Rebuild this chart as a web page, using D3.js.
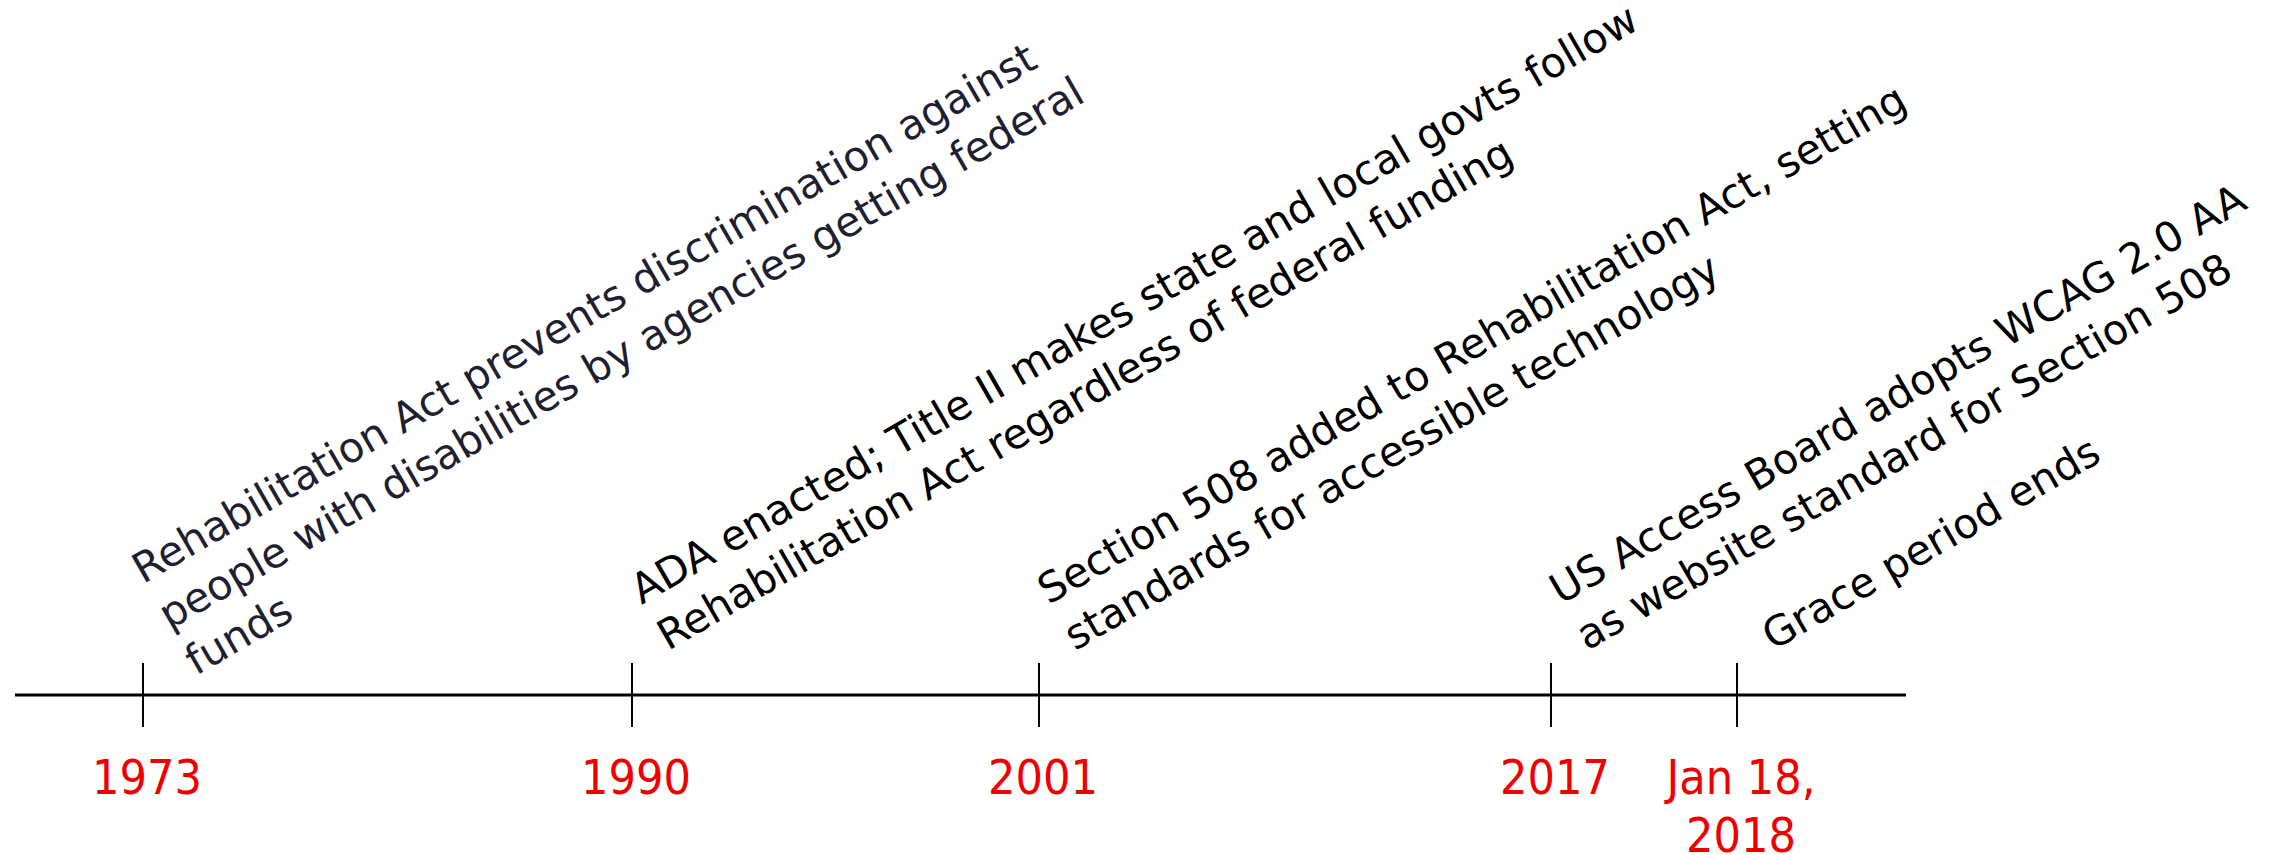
<!DOCTYPE html>
<html>
<head>
<meta charset="utf-8">
<script src="https://cdn.jsdelivr.net/npm/d3@7"></script>
<style>
  body { margin: 0; background: #fff; }
  .note { font-family: "DejaVu Sans", sans-serif; font-size: 41.5px; }
  .when { font-family: "DejaVu Sans Condensed", "Liberation Sans Narrow", "DejaVu Sans", sans-serif;
          font-stretch: condensed; font-size: 48px; fill: #ee0000; }
</style>
</head>
<body>
<svg class="chart"></svg>
<script>
// events along the timeline
var dates = [
  new Date(1973, 0, 1),
  new Date(1990, 0, 1),
  new Date(2001, 0, 1),
  new Date(2017, 0, 1),
  new Date(2018, 0, 18)
];

var whenLabels = [
  ["1973"],
  ["1990"],
  ["2001"],
  ["2017"],
  ["Jan 18,", "2018"]
];

var notes = [
  ["Rehabilitation Act prevents discrimination against",
   "people with disabilities by agencies getting federal",
   "funds"],
  ["ADA enacted; Title II makes state and local govts follow",
   "Rehabilitation Act regardless of federal funding"],
  ["Section 508 added to Rehabilitation Act, setting",
   "standards for accessible technology"],
  ["US Access Board adopts WCAG 2.0 AA",
   "as website standard for Section 508"],
  ["Grace period ends"]
];

var width = 2287,
  height = 855,
  axisY = 695,
  tickHalf = 32,
  lineGap = 53,
  angle = -30;

// timeline is not evenly spaced, so a polylinear time scale
var stops = [143, 632, 1039, 1551, 1737];
var x = d3.scaleTime().domain(dates).range(stops);

var chart = d3.select(".chart")
  .attr("width", width)
  .attr("height", height);

// main line
chart.append("line")
  .attr("x1", 15)
  .attr("x2", 1906)
  .attr("y1", axisY)
  .attr("y2", axisY)
  .attr("stroke", "#000")
  .attr("stroke-width", 3);

var events = chart.selectAll("g.event")
  .data(dates)
  .enter()
  .append("g")
  .attr("class", "event");

// tick marks
events.append("line")
  .attr("x1", function(d) { return x(d); })
  .attr("x2", function(d) { return x(d); })
  .attr("y1", axisY - tickHalf)
  .attr("y2", axisY + tickHalf)
  .attr("stroke", "#000")
  .attr("stroke-width", 2);

// red date labels under the ticks
events.append("text")
  .attr("class", "when")
  .attr("text-anchor", "middle")
  .selectAll("tspan")
  .data(function(d, i) {
    return whenLabels[i].map(function(t) { return { t: t, d: d }; });
  })
  .enter()
  .append("tspan")
  .attr("x", function(d) { return x(d.d) + 4; })
  .attr("y", function(d, j) { return 794 + j * 58; })
  .text(function(d) { return d.t; });

// rotated notes, last line sits just above the tick
events.append("text")
  .attr("class", "note")
  .attr("fill", function(d, i) { return i === 0 ? "#1f1f33" : "#000"; })
  .attr("transform", function(d, i) {
    var extra = Math.max(notes[i].length - 2, 0);
    var ax = x(d) + 36 + extra * 17;
    var ay = 651 + extra * 25;
    return "translate(" + ax + "," + ay + ") rotate(" + angle + ")";
  })
  .selectAll("tspan")
  .data(function(d, i) { return notes[i]; })
  .enter()
  .append("tspan")
  .attr("x", 0)
  .attr("y", function(d, j, all) { return -(all.length - 1 - j) * lineGap; })
  .text(function(d) { return d; });
</script>
</body>
</html>
